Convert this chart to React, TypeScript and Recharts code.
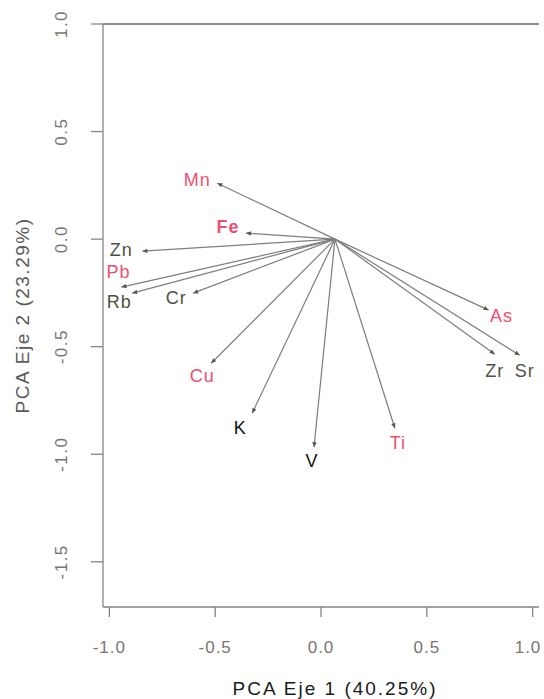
import React from 'react';
import { ScatterChart, Scatter, XAxis, YAxis, ReferenceLine } from 'recharts';

// ---- Data ----
const variables = ['Mn', 'Fe', 'Zn', 'Pb', 'Rb', 'Cr', 'Cu', 'K', 'V', 'Ti', 'As', 'Zr', 'Sr'];
const pc1 = [-0.49, -0.354, -0.844, -0.943, -0.892, -0.604, -0.519, -0.325, -0.033, 0.349, 0.792, 0.821, 0.939];
const pc2 = [0.26, 0.028, -0.056, -0.223, -0.251, -0.251, -0.577, -0.809, -0.967, -0.879, -0.33, -0.535, -0.54];
const originPC1 = 0.066;
const originPC2 = 0;
const xTicks = [-1.0, -0.5, 0.0, 0.5, 1.0];
const yTicks = [-1.5, -1.0, -0.5, 0.0, 0.5, 1.0];
const xDomain = [-1.03, 1.03];
const yDomain = [-1.71, 1.0];
const xTitle = 'PCA Eje 1 (40.25%)';
const yTitle = 'PCA Eje 2 (23.29%)';

// ---- Styles (label offsets in px and colours) ----
const RED = '#ef4f70';
const DARK = '#4d5242';
const BLACK = '#111111';
const labelStyle: Record<string, { dx: number; dy: number; color: string; bold?: boolean }> = {
  Mn: { dx: -20, dy: -3, color: RED },
  Fe: { dx: -18, dy: -6, color: RED, bold: true },
  Zn: { dx: -21, dy: -1, color: DARK },
  Pb: { dx: -3, dy: -15, color: RED },
  Rb: { dx: -13, dy: 9, color: DARK },
  Cr: { dx: -17, dy: 5, color: DARK },
  Cu: { dx: -9, dy: 13, color: RED },
  K: { dx: -12, dy: 15, color: BLACK },
  V: { dx: -2, dy: 14, color: BLACK },
  Ti: { dx: 3, dy: 15, color: RED },
  As: { dx: 13, dy: 6, color: RED },
  Zr: { dx: 0, dy: 17, color: DARK },
  Sr: { dx: 5, dy: 16, color: DARK },
};

const FONT = '"Liberation Sans", Arial, sans-serif';
const AXIS_GRAY = '#858585';
const rows = variables.map((name, i) => ({ name, x: pc1[i], y: pc2[i] }));

const ArrowShape = (props: any) => {
  const { x1, y1, x2, y2 } = props;
  if ([x1, y1, x2, y2].some((v) => v == null || isNaN(v))) return <g />;
  const ang = Math.atan2(y2 - y1, x2 - x1);
  const L = 5;
  const W = 2.2;
  const bx = x2 - L * Math.cos(ang);
  const by = y2 - L * Math.sin(ang);
  const px = -Math.sin(ang) * W;
  const py = Math.cos(ang) * W;
  return (
    <g>
      <line x1={x1} y1={y1} x2={x2} y2={y2} stroke="#7d7f7a" strokeWidth={1.2} />
      <polygon points={`${x2},${y2} ${bx + px},${by + py} ${bx - px},${by - py}`} fill="#55574f" />
    </g>
  );
};

const LabelShape = (props: any) => {
  const { cx, cy, payload } = props;
  const s = labelStyle[payload.name];
  return (
    <text
      x={cx + s.dx}
      y={cy + s.dy}
      textAnchor="middle"
      dominantBaseline="central"
      fill={s.color}
      fontFamily={FONT}
      fontSize={18}
      letterSpacing={1}
      fontWeight={s.bold ? 'bold' : 'normal'}
    >
      {payload.name}
    </text>
  );
};

const XTick = (props: any) => {
  const { x, y, payload } = props;
  const shift = Math.min(0, 541 - (x + 13));
  return (
    <text x={x + shift} y={y + 36} textAnchor="middle" fill="#7a7470" fontFamily={FONT} fontSize={17} letterSpacing={1}>
      {payload.value.toFixed(1)}
    </text>
  );
};

const YTick = (props: any) => {
  const { x, y, payload } = props;
  const tx = x - 24;
  return (
    <text
      x={tx}
      y={y}
      transform={`rotate(-90, ${tx}, ${y})`}
      textAnchor="middle"
      fill="#7a7470"
      fontFamily={FONT}
      fontSize={17}
      letterSpacing={1.5}
    >
      {payload.value.toFixed(1)}
    </text>
  );
};

const XTitle = (props: any) => {
  const { viewBox } = props;
  const cx = viewBox.x + viewBox.width / 2 + 14;
  return (
    <text x={cx} y={695} textAnchor="middle" fill="#1a1a1a" fontFamily={FONT} fontSize={19} letterSpacing={2}>
      {xTitle}
    </text>
  );
};

const YTitle = (props: any) => {
  const { viewBox } = props;
  const cy = viewBox.y + viewBox.height / 2;
  const cx = 22;
  return (
    <text
      x={cx}
      y={cy}
      transform={`rotate(-90, ${cx}, ${cy})`}
      textAnchor="middle"
      dominantBaseline="central"
      fill="#5a5a5a"
      fontFamily={FONT}
      fontSize={19}
      letterSpacing={1.5}
    >
      {yTitle}
    </text>
  );
};

export default function App() {
  return (
    <div style={{ position: 'absolute', left: 0, top: 0, background: '#fff' }}>
      <ScatterChart width={544} height={699} margin={{ top: 23, right: 5, left: 0, bottom: 0 }}>
        <XAxis
          type="number"
          dataKey="x"
          domain={xDomain}
          ticks={xTicks}
          allowDataOverflow
          height={92}
          tickSize={10}
          tickMargin={0}
          tick={<XTick />}
          stroke={AXIS_GRAY}
          strokeWidth={1.3}
          label={<XTitle />}
        />
        <XAxis
          xAxisId="top"
          orientation="top"
          type="number"
          dataKey="x"
          domain={xDomain}
          allowDataOverflow
          height={1}
          tick={false}
          tickLine={false}
          stroke={AXIS_GRAY}
          strokeWidth={1.3}
        />
        <YAxis
          type="number"
          dataKey="y"
          domain={yDomain}
          ticks={yTicks}
          allowDataOverflow
          width={103}
          tickSize={12}
          tickMargin={0}
          tick={<YTick />}
          stroke={AXIS_GRAY}
          strokeWidth={1.3}
          label={<YTitle />}
        />
        <YAxis
          yAxisId="right"
          orientation="right"
          type="number"
          dataKey="y"
          domain={yDomain}
          allowDataOverflow
          width={0}
          tick={false}
          tickLine={false}
          stroke={AXIS_GRAY}
          strokeWidth={1.3}
        />
        <ReferenceLine y={yDomain[1]} ifOverflow="visible" stroke={AXIS_GRAY} strokeWidth={1.3} />
        {variables.map((name, i) => (
          <ReferenceLine
            key={name}
            segment={[
              { x: originPC1, y: originPC2 },
              { x: pc1[i], y: pc2[i] },
            ]}
            ifOverflow="visible"
            shape={ArrowShape}
          />
        ))}
        <Scatter data={rows} isAnimationActive={false} shape={LabelShape} />
      </ScatterChart>
    </div>
  );
}
